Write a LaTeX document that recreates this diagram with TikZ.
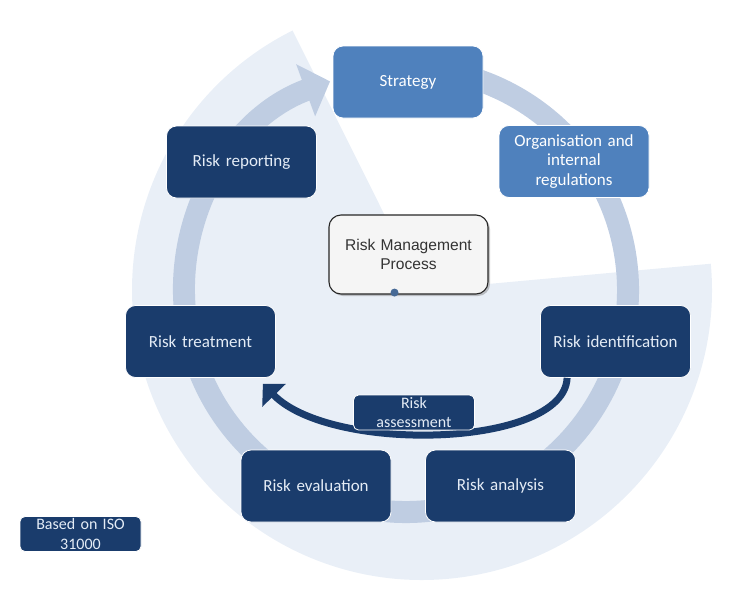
\documentclass[tikz,border=0pt]{standalone}
\usepackage{fontspec}
\setmainfont{Carlito}
\newfontfamily\arialfont{Liberation Sans}
\definecolor{navy}{RGB}{26,60,108}
\definecolor{midblue}{RGB}{79,129,189}
\definecolor{discfill}{RGB}{233,239,247}
\definecolor{ringfill}{RGB}{191,205,226}
\definecolor{boxtext}{RGB}{228,236,246}
\definecolor{dotblue}{RGB}{70,105,150}
\usetikzlibrary{positioning,arrows.meta,shadows}
\tikzset{
  darkbox/.style={draw=white,fill=navy,rounded corners=10pt,line width=0.8pt,
                  minimum width=150pt,minimum height=72pt,inner sep=0pt,
                  text width=146pt,align=center,text=boxtext,
                  font=\fontsize{17}{19.5}\selectfont},
  lightbox/.style={darkbox,fill=midblue,text=white},
  smallbox/.style={darkbox,rounded corners=5pt,minimum width=121pt,
                   minimum height=35pt,text width=118pt,
                   font=\fontsize{16}{19.5}\selectfont},
  hubbox/.style={draw=black!85,fill=black!4,rounded corners=12pt,line width=1.1pt,
                 minimum width=159pt,minimum height=79pt,inner sep=0pt,
                 text width=155pt,align=center,text=black!80,
                 font=\arialfont\fontsize{15.6}{19.5}\selectfont,
                 drop shadow={shadow xshift=2pt,shadow yshift=-2pt,opacity=0.45}},
  ringarr/.style={line width=22pt,ringfill,-{Triangle[width=54pt,length=26pt]}},
  assessarr/.style={line width=7pt,navy,-{Triangle[width=32pt,length=16pt]}},
}
\begin{document}
\begin{tikzpicture}[x=1pt,y=-1pt]
  \useasboundingbox (0,0) rectangle (752,608);
  % background pie and cycle ring
  \coordinate (pie) at (422,290);
  \coordinate (hub) at (406,290);
  \fill[discfill] (pie) -- ++(-5.2:290) arc[start angle=-5.2,end angle=243.5,radius=290] -- cycle;
  \draw[ringarr] (hub) ++(-100:222) arc[start angle=-100,end angle=250,radius=222];

  \node[lightbox] (strat) at (408,82) {Strategy};
  \node[lightbox] (org) at (574,161.5) {Organisation and\\internal\\regulations};
  \node[darkbox] (report) at (241.5,162) {Risk reporting};
  \node[hubbox] (rmp) at (408.5,254.5) {Risk Management\\Process};
  \node[circle,fill=dotblue,minimum size=8pt,inner sep=0pt] (dot) at ([xshift=-14pt,yshift=2pt]rmp.south) {};
  \node[darkbox] (ident) at (615.5,341.5) {Risk identification};
  \node[darkbox] (treat) at (200.5,341.5) {Risk treatment};
  \node[darkbox] (evalu) at (316,486) {Risk evaluation};
  \node[darkbox] (analys) at (500.5,486) {Risk analysis};

  \draw[assessarr] ([xshift=27pt]ident.south west) .. controls +(-3,70) and +(68,70) .. ([xshift=-13pt,yshift=-6pt]treat.south east);
  \node[smallbox] (assess) at (414,412.5) {Risk\\assessment};

  \node[smallbox] (iso) at (80.5,534) {Based on ISO\\31000};
\end{tikzpicture}
\end{document}
